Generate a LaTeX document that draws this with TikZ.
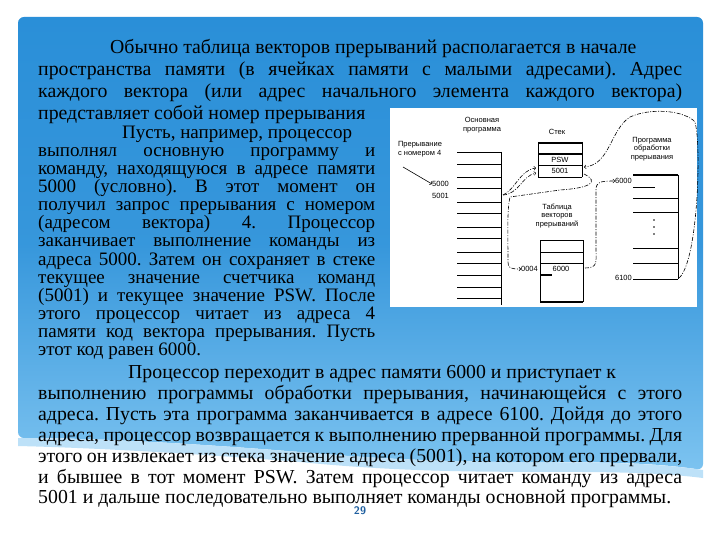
\documentclass[tikz,border=0pt]{standalone}
\usepackage{fontspec}
\newfontfamily\tfont{Liberation Serif}
\newfontfamily\dfont{Liberation Sans}
\definecolor{panel}{HTML}{2A8FD8}
\definecolor{panellow}{HTML}{7CC3F0}
\definecolor{pagenum}{HTML}{1F5F9F}
\newcommand\jw[2]{\makebox[#1pt][s]{#2}}
\frenchspacing
\tikzset{
  tl/.style={anchor=base west,inner sep=0pt,font=\tfont\fontsize{19.8}{21}\selectfont\frenchspacing},
  tls/.style={tl,font=\tfont\fontsize{19}{20}\selectfont\frenchspacing},
  dl/.style={inner sep=0pt,font=\dfont\fontsize{7.5}{8.5}\selectfont,align=center},
  dd/.style={line width=0.6pt,dash pattern=on 4pt off 1.5pt on 1pt off 1.5pt},
  cell/.style={line width=0.6pt},
  thick cell/.style={line width=1.5pt}
}
\begin{document}
\begin{tikzpicture}[x=1pt,y=-1pt]
\useasboundingbox (0,0) rectangle (720,540);
\fill[white] (0,0) rectangle (720,540);
% blue panel with wavy bottom
\shade[top color=panel,bottom color=panellow,middle color=panel!85!panellow,rounded corners=6pt] (18,17) -- (703,17) -- (703,470)
  .. controls (600,455) and (500,470) .. (300,452)
  .. controls (200,444) and (100,438) .. (18,438) -- cycle;
\fill[panellow!50] (18,438) .. controls (100,438) and (200,444) .. (300,452)
  .. controls (500,470) and (600,455) .. (703,470) -- (703,478)
  .. controls (600,465) and (480,480) .. (300,462)
  .. controls (200,454) and (100,448) .. (18,446) -- cycle;
% top text
\node[tl] (l1) at (110,54) {Обычно таблица векторов прерываний располагается в начале};
\node[tl] (l2) at (38,76) {\jw{644}{пространства памяти (в ячейках памяти с малыми адресами). Адрес}};
\node[tl] (l3) at (38,98) {\jw{644}{каждого вектора (или адрес начального элемента каждого вектора)}};
\node[tl] (l4) at (38,120) {представляет собой номер прерывания};
\node[tls] (l5) at (122,139) {Пусть, например, процессор};
\node[tls] (l6) at (38,157) {\jw{337}{выполнял основную программу и}};
\node[tls] (l7) at (38,175) {\jw{337}{команду, находящуюся в адресе памяти}};
\node[tls] (l8) at (38,193) {\jw{337}{5000 (условно). В этот момент он}};
\node[tls] (l9) at (38,211) {\jw{337}{получил запрос прерывания с номером}};
\node[tls] (l10) at (38,229) {\jw{337}{(адресом вектора) 4. Процессор}};
\node[tls] (l11) at (38,247) {\jw{337}{заканчивает выполнение команды из}};
\node[tls] (l12) at (38,265) {\jw{337}{адреса 5000. Затем он сохраняет в стеке}};
\node[tls] (l13) at (38,283) {\jw{337}{текущее значение счетчика команд}};
\node[tls] (l14) at (38,301) {\jw{337}{(5001) и текущее значение PSW. После}};
\node[tls] (l15) at (38,319) {\jw{337}{этого процессор читает из адреса 4}};
\node[tls] (l16) at (38,337) {\jw{337}{памяти код вектора прерывания. Пусть}};
\node[tls] (l17) at (38,355) {этот код равен 6000.};
\node[tl] (l18) at (128,378) {Процессор переходит в адрес памяти 6000 и приступает к};
\node[tl] (l19) at (38,399) {\jw{644}{выполнению программы обработки прерывания, начинающейся с этого}};
\node[tl] (l20) at (38,420) {\jw{644}{адреса. Пусть эта программа заканчивается в адресе 6100. Дойдя до этого}};
\node[tl] (l21) at (38,441) {\jw{644}{адреса, процессор возвращается к выполнению прерванной программы. Для}};
\node[tl] (l22) at (38,462) {\jw{644}{этого он извлекает из стека значение адреса (5001), на котором его прервали,}};
\node[tl] (l23) at (38,483) {\jw{644}{и бывшее в тот момент PSW. Затем процессор читает команду из адреса}};
\node[tl] (l24) at (38,503) {5001 и дальше последовательно выполняет команды основной программы.};
\node[text=pagenum,font=\sffamily\bfseries\fontsize{11}{12}\selectfont] (pn) at (360,511) {29};
% diagram
\fill[white] (390,108) rectangle (697,307);
% main program
\node[dl] (mainlbl) at (482,125) {Основная\\программа};
\node[dl,align=left] (intlbl) at (420,149) {Прерывание\\с номером 4};
\draw[cell] (501,152) -- (501,305);
\foreach \y in {152,164,177,188,202,213,227,238,252,263,275,287,298}
  \draw[cell] (457,\y) -- (501,\y);
\node[dl,anchor=west] (a5000) at (432,184) {5000};
\node[dl,anchor=west] (a5001) at (432,196) {5001};
\coordinate (intfrom) at (403,167);
\draw[cell,->] (intfrom) -- (a5000.west);
% stack
\node[dl] (stklbl) at (557,132) {Стек};
\draw[cell] (538,142) -- (538,177) (582,142) -- (582,177);
\draw[thick cell] (538,143) -- (582,143) (538,154) -- (582,154);
\draw[cell] (538,165) -- (582,165) (538,177) -- (582,177);
\node[dl] (psw) at (560,160) {PSW};
\node[dl] (s5001) at (560,171) {5001};
% vector table
\node[dl] (tbllbl) at (557,216) {Таблица\\векторов\\прерываний};
\draw[cell] (540,240) -- (540,302) (583,240) -- (583,302);
\foreach \y in {240,252,263} \draw[cell] (540,\y) -- (583,\y);
\draw[thick cell] (540,275) -- (552,275) (540,302) -- (583,302);
\node[dl] (t6000) at (561,269) {6000};
\node[dl,anchor=east] (a0004) at (538,269) {0004};
% handler
\node[dl] (hndlbl) at (652,149) {Программа\\обработки\\прерывания};
\draw[thick cell] (633,175) -- (678,175);
\draw[cell] (678,175) -- (678,279);
\draw[cell] (633,187) -- (655,187);
\foreach \y in {198,212,248,263,279} \draw[cell] (633,\y) -- (678,\y);
\foreach \y in {220,227,234} \fill (654,\y) circle (0.9pt);
\node[dl,anchor=east] (h6000) at (632,181) {6000};
\node[dl,anchor=east] (h6100) at (632,278) {6100};
% connectors
\coordinate (m5001) at (503,195);
\draw[dd,->] (m5001) .. controls (515,190) and (520,170) .. (536,168);
\draw[dd,->] (m5001) .. controls (519,194) and (522,176) .. (536,173);
\coordinate (hend) at (679,278);
\coordinate (hup1) at (693,120);
\coordinate (hup2) at (630,117);
\draw[dd,->] (hend) .. controls (700,260) and (702,120) .. (hup1)
  .. controls (680,110) and (650,108) .. (hup2)
  .. controls (610,130) and (610,165) .. (584,167);
\coordinate (sb) at (584,174);
\coordinate (sm1) at (560,190);
\coordinate (sm2) at (510,197);
\draw[dd,->] (sb) .. controls (600,182) and (590,188) .. (sm1)
  -- (sm2) .. controls (507,210) and (508,230) .. (508,262)
  .. controls (508,268) and (510,269) .. (a0004.west);
\coordinate (tv) at (585,268);
\draw[dd,->] (tv) .. controls (598,268) and (596,262) .. (596,250) -- (596,190)
  .. controls (596,182) and (600,181) .. (h6000.west);
\end{tikzpicture}
\end{document}
